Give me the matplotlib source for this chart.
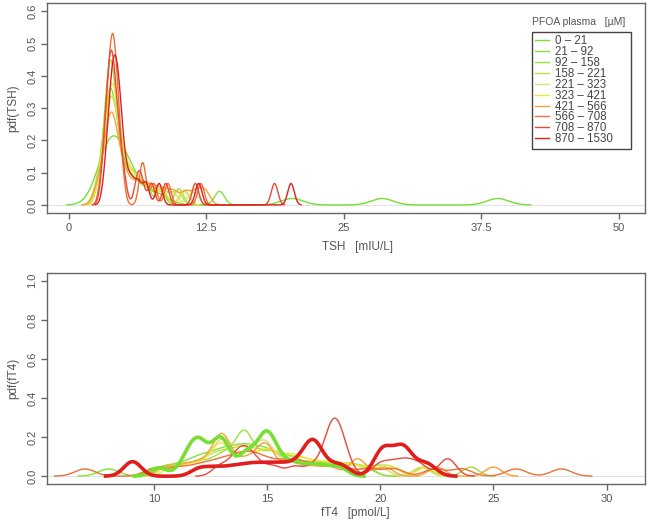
import numpy as np
import matplotlib
matplotlib.use("Agg")
import matplotlib.pyplot as plt
from matplotlib.lines import Line2D

# PFOA plasma concentration classes [uM]
classes = ["0 – 21", "21 – 92", "92 – 158", "158 – 221", "221 – 323",
           "323 – 421", "421 – 566", "566 – 708", "708 – 870", "870 – 1530"]
colors = ["#78DE34", "#86E03A", "#9CE23C", "#B8E444", "#D8E270",
          "#F2E43C", "#F4A03C", "#EE7038", "#E94A34", "#E01E1E"]

# TSH observations per class [mIU/L] (estimated) and kernel bandwidths
tsh_obs = [
    [2.8, 3.1, 3.3, 3.5, 3.7, 3.8, 4.0, 4.1, 4.3, 4.5, 4.7, 5.0, 5.3, 5.7, 6.3, 7.2, 8.4, 20.3, 28.5, 39.0],
    [2.6, 3.1, 3.3, 3.45, 3.55, 3.65, 3.75, 3.85, 3.95, 4.05, 4.2, 4.4, 4.6, 4.9, 5.3, 5.8, 6.4, 7.2, 8.3, 10.5, 13.7],
    [2.8, 3.2, 3.4, 3.5, 3.6, 3.7, 3.75, 3.85, 3.9, 4.0, 4.1, 4.25, 4.45, 4.8, 5.2, 5.7, 6.3, 7.1, 8.4, 10.0],
    [2.6, 3.1, 3.35, 3.5, 3.6, 3.75, 3.85, 3.95, 4.05, 4.2, 4.4, 4.6, 4.9, 5.3, 5.7, 6.2, 6.8, 7.6, 8.6, 9.8],
    [2.7, 3.2, 3.4, 3.55, 3.65, 3.8, 3.9, 4.0, 4.1, 4.2, 4.35, 4.55, 4.85, 5.2, 5.6, 6.1, 6.6, 7.3, 8.2, 9.4, 11.3],
    [2.8, 3.25, 3.45, 3.6, 3.7, 3.8, 3.9, 4.0, 4.1, 4.2, 4.35, 4.55, 4.8, 5.1, 5.5, 6.0, 6.6, 7.4, 8.5, 10.5],
    [2.6, 3.1, 3.35, 3.55, 3.7, 3.8, 3.9, 4.0, 4.15, 4.35, 4.6, 4.9, 5.3, 5.9, 6.5, 7.1, 7.8, 8.6, 9.5, 10.6,
     11.6, 12.4],
    [3.0, 3.3, 3.45, 3.6, 3.7, 3.8, 3.9, 3.95, 4.0, 4.1, 4.2, 4.3, 4.4, 4.55, 4.8, 6.65, 6.75, 7.7, 9.0, 12.0],
    [3.1, 3.35, 3.5, 3.6, 3.7, 3.8, 3.85, 3.95, 4.05, 4.15, 4.3, 4.45, 4.65, 5.0, 6.2, 6.6, 7.5, 8.8, 11.5, 18.7],
    [3.3, 3.6, 3.75, 3.85, 3.95, 4.05, 4.15, 4.25, 4.35, 4.45, 4.55, 4.7, 4.85, 5.2, 5.7, 6.3, 7.0, 8.2, 11.8, 20.2],
]
tsh_bw = [1.0, 0.45, 0.4, 0.48, 0.48, 0.45, 0.45, 0.3, 0.3, 0.3]

# fT4 observations per class [pmol/L] (estimated) and kernel bandwidths
ft4_obs = [
    [10.2, 11.3, 11.6, 11.8, 11.95, 12.05, 12.2, 12.7, 12.85, 12.95, 13.05, 13.2, 13.9, 14.1, 14.3, 14.75, 14.85,
     14.95, 15.05, 15.15, 15.4, 15.8, 16.3, 16.9, 17.5, 18.2],
    [8.0, 10.3, 11.0, 11.6, 12.0, 12.3, 12.7, 13.0, 13.2, 13.5, 13.8, 14.0, 14.2, 14.5, 14.8, 15.0, 15.3, 15.7,
     16.2, 16.8, 17.5, 18.0, 18.6, 19.3],
    [10.5, 11.2, 11.8, 12.3, 12.8, 13.1, 13.4, 13.8, 13.9, 14.0, 14.1, 14.2, 14.7, 15.0, 15.3, 15.6, 16.0, 16.4,
     17.0, 17.6, 18.3, 19.4, 21.9, 24.0],
    [10.0, 11.0, 11.7, 12.2, 12.6, 12.9, 13.2, 13.5, 13.8, 14.0, 14.3, 14.6, 14.9, 15.2, 15.5, 15.9, 16.3, 16.7,
     17.2, 17.8, 18.4, 19.0, 19.8, 20.5],
    [10.6, 11.4, 12.0, 12.5, 12.8, 13.0, 13.1, 13.3, 13.7, 14.0, 14.1, 14.5, 14.8, 14.9, 15.0, 15.4, 15.9, 16.5,
     17.0, 17.6, 18.3, 19.0, 20.0, 21.8],
    [10.8, 11.5, 12.1, 12.6, 12.9, 13.0, 13.1, 13.6, 14.0, 14.2, 14.6, 15.0, 15.1, 15.5, 15.9, 16.2, 16.6, 17.1,
     17.6, 18.2, 18.8, 19.6, 20.6, 22.0],
    [10.4, 11.2, 11.8, 12.3, 12.75, 12.9, 13.0, 13.1, 13.25, 13.8, 14.2, 14.6, 14.9, 15.0, 15.1, 15.9, 16.2, 17.0,
     17.8, 18.9, 19.1, 20.2, 22.5, 25.0],
    [6.95, 10.0, 11.0, 11.8, 12.4, 12.9, 13.3, 13.7, 14.0, 14.3, 14.6, 15.0, 15.5, 16.0, 16.4, 17.0, 17.6, 18.4,
     19.5, 20.6, 22.4, 23.6, 26.0, 28.0],
    [12.9, 13.5, 13.8, 14.0, 14.2, 14.6, 15.3, 16.2, 17.0, 17.6, 17.75, 17.85, 17.95, 18.05, 18.15, 18.25, 18.5,
     19.9, 20.4, 20.9, 21.3, 21.8, 22.85, 23.1],
    [9.0, 9.1, 12.0, 12.7, 13.4, 14.0, 14.5, 15.0, 15.5, 16.0, 16.5, 16.8, 16.95, 17.05, 17.15, 17.3, 17.9, 18.4,
     19.95, 20.05, 20.2, 20.35, 20.85, 20.95, 21.05, 21.2, 21.8, 22.2],
]
ft4_bw = [0.36, 0.45, 0.36, 0.4, 0.36, 0.38, 0.36, 0.45, 0.35, 0.38]
ft4_thick = [True, False, False, False, False, False, False, False, False, True]


def density(obs, bw, n=512, cut=3):
    # gaussian kernel density, grid like R's density()
    obs = np.asarray(obs, dtype=float)
    grid = np.linspace(obs.min() - cut * bw, obs.max() + cut * bw, n)
    z = (grid[:, None] - obs[None, :]) / bw
    y = np.exp(-0.5 * z ** 2).sum(axis=1) / (len(obs) * bw * np.sqrt(2 * np.pi))
    return grid, y


plt.rcParams["font.family"] = ["Liberation Sans", "DejaVu Sans"]
grey = "#555555"

fig = plt.figure(figsize=(6.5, 5.27), dpi=100)
ax1 = fig.add_axes([0.0723, 0.5958, 0.9200, 0.3985])
ax2 = fig.add_axes([0.0723, 0.0816, 0.9200, 0.4004])


def style(ax):
    for s in ax.spines.values():
        s.set_color("#666666")
        s.set_linewidth(1.0)
    ax.tick_params(colors="#666666", labelcolor=grey, labelsize=8, length=4, width=1.0, pad=3)
    for lab in ax.get_yticklabels():
        lab.set_rotation(90)
        lab.set_va("center")
    ax.axhline(0, color="#e3e3e3", lw=0.8, zorder=0)


for obs, bw, c in zip(tsh_obs, tsh_bw, colors):
    x, y = density(obs, bw)
    ax1.plot(x, y, color=c, lw=1.0)
ax1.set_xlim(-2.0, 52.4)
ax1.set_ylim(-0.025, 0.626)
ax1.set_xticks([0, 12.5, 25, 37.5, 50])
ax1.set_xticklabels(["0", "12.5", "25", "37.5", "50"])
ax1.set_yticks([0.0, 0.1, 0.2, 0.3, 0.4, 0.5, 0.6])
ax1.set_yticklabels(["0.0", "0.1", "0.2", "0.3", "0.4", "0.5", "0.6"])
style(ax1)
ax1.set_ylabel("pdf(TSH)", color=grey, fontsize=8.5, labelpad=6)
fig.text(357 / 650, 1 - 247 / 527, "TSH   [mIU/L]", color=grey, fontsize=8.5, ha="center", va="center")

for obs, bw, c, thick in zip(ft4_obs, ft4_bw, colors, ft4_thick):
    x, y = density(obs, bw)
    ax2.plot(x, y, color=c, lw=2.6 if thick else 1.0, zorder=3 if thick else 2)
ax2.set_xlim(5.27, 31.7)
ax2.set_ylim(-0.04, 1.04)
ax2.set_xticks([10, 15, 20, 25, 30])
ax2.set_yticks([0.0, 0.2, 0.4, 0.6, 0.8, 1.0])
ax2.set_yticklabels(["0.0", "0.2", "0.4", "0.6", "0.8", "1.0"])
style(ax2)
ax2.set_ylabel("pdf(fT4)", color=grey, fontsize=8.5, labelpad=6)
fig.text(355 / 650, 1 - 513 / 527, "fT4   [pmol/L]", color=grey, fontsize=8.5, ha="center", va="center")

# legend with title above the box
handles = [Line2D([], [], color=c, lw=1.0) for c in colors]
leg = ax1.legend(handles, classes, loc="upper left",
                 bbox_to_anchor=(532 / 650, 1 - 133 / 527, 99 / 650, 101 / 527),
                 bbox_transform=fig.transFigure, mode="expand", fontsize=8.3, labelspacing=-0.1,
                 handlelength=1.2, handletextpad=0.5, borderpad=0.3, borderaxespad=0,
                 fancybox=False, framealpha=1)
leg.get_frame().set_edgecolor("#444444")
leg.get_frame().set_linewidth(1.0)
for t in leg.get_texts():
    t.set_color("#444444")
fig.text(532 / 650, 1 - 22 / 527, "PFOA plasma   [\u00b5M]", color=grey, fontsize=7.5, ha="left", va="center")

fig.savefig("out.png", dpi=100)
